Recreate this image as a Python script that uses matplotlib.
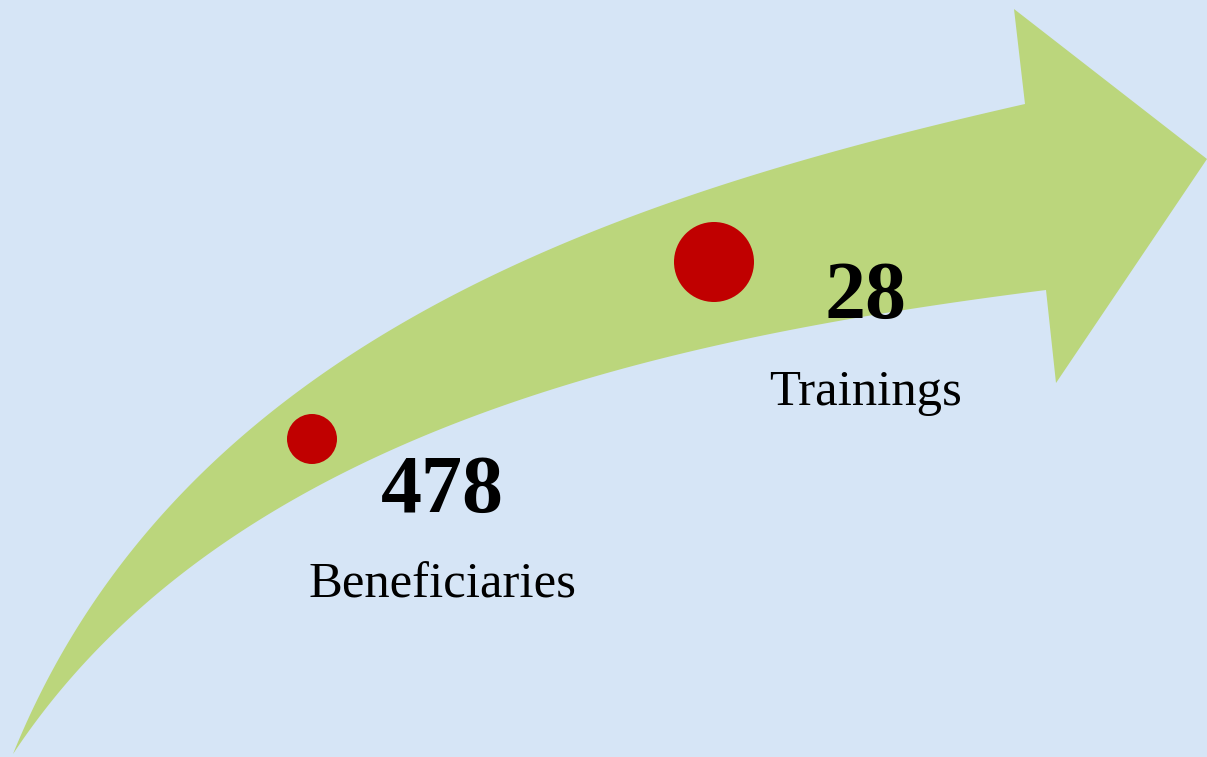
import numpy as np
import matplotlib
matplotlib.use("Agg")
import matplotlib.pyplot as plt
from matplotlib.patches import Polygon, Ellipse

# ---- data ----
values = ["478", "28"]
labels = ["Beneficiaries", "Trainings"]
dot_x = [312, 714]
dot_y = [439, 262]
dot_r = [25, 40]
num_x = [442, 866]
num_base = [512, 318]
lab_x = [442, 866]
lab_base = [597, 405]

BG = "#d6e5f6"
GREEN = "#bbd67c"
RED = "#c00000"

W, H = 1207, 757
fig = plt.figure(figsize=(W / 100, H / 100), dpi=100)
ax = fig.add_axes([0, 0, 1, 1])
ax.set_xlim(0, W)
ax.set_ylim(H, 0)
ax.axis("off")
fig.patch.set_facecolor(BG)


def bezier_fit(pts, n=200):
    """Least-squares cubic Bezier with fixed end points; returns sampled curve."""
    pts = np.asarray(pts, float)
    d = np.r_[0, np.cumsum(np.hypot(*np.diff(pts, axis=0).T))]
    t = d / d[-1]
    P0, P3 = pts[0], pts[-1]
    b0 = (1 - t) ** 3
    b1 = 3 * (1 - t) ** 2 * t
    b2 = 3 * (1 - t) * t ** 2
    b3 = t ** 3
    A = np.c_[b1, b2]
    rhs = pts - np.outer(b0, P0) - np.outer(b3, P3)
    sol, *_ = np.linalg.lstsq(A, rhs, rcond=None)
    P1, P2 = sol
    # refine parameterisation a few times
    for _ in range(5):
        tt = np.linspace(0, 1, 2000)
        curve = (np.outer((1 - tt) ** 3, P0) + np.outer(3 * (1 - tt) ** 2 * tt, P1)
                 + np.outer(3 * (1 - tt) * tt ** 2, P2) + np.outer(tt ** 3, P3))
        idx = [np.argmin(np.hypot(*(curve - p).T)) for p in pts]
        t = tt[idx]
        t[0], t[-1] = 0, 1
        b0 = (1 - t) ** 3
        b1 = 3 * (1 - t) ** 2 * t
        b2 = 3 * (1 - t) * t ** 2
        b3 = t ** 3
        A = np.c_[b1, b2]
        rhs = pts - np.outer(b0, P0) - np.outer(b3, P3)
        sol, *_ = np.linalg.lstsq(A, rhs, rcond=None)
        P1, P2 = sol
    tt = np.linspace(0, 1, n)
    return (np.outer((1 - tt) ** 3, P0) + np.outer(3 * (1 - tt) ** 2 * tt, P1)
            + np.outer(3 * (1 - tt) * tt ** 2, P2) + np.outer(tt ** 3, P3))


upper = [(13, 754), (50, 697), (117, 570), (183, 490), (250, 427), (317, 378),
         (400, 323), (450, 296), (515, 267), (668, 203), (783, 167),
         (897, 135), (1000, 109), (1025, 104)]
lower = [(1046, 290), (1000, 295), (821, 321), (668, 357), (515, 401),
         (450, 430), (350, 472), (250, 524), (183, 570), (117, 628),
         (50, 702), (13, 754)]
head = [(1014, 9), (1207, 159), (1056, 383)]

outline = np.vstack([bezier_fit(upper), np.array(head, float), bezier_fit(lower)])
ax.add_patch(Polygon(outline, closed=True, facecolor=GREEN, edgecolor="none"))

for x, y, r in zip(dot_x, dot_y, dot_r):
    ax.add_patch(Ellipse((x, y), 2 * r, 2 * r, facecolor=RED, edgecolor="none"))

for v, x, y in zip(values, num_x, num_base):
    ax.text(x, y, v, ha="center", va="baseline", fontsize=59, fontweight="bold",
            family="Liberation Serif", color="black")
for l, x, y in zip(labels, lab_x, lab_base):
    ax.text(x, y, l, ha="center", va="baseline", fontsize=36.5,
            family="Liberation Serif", color="black")

fig.savefig("out.png", dpi=100, facecolor=BG)
